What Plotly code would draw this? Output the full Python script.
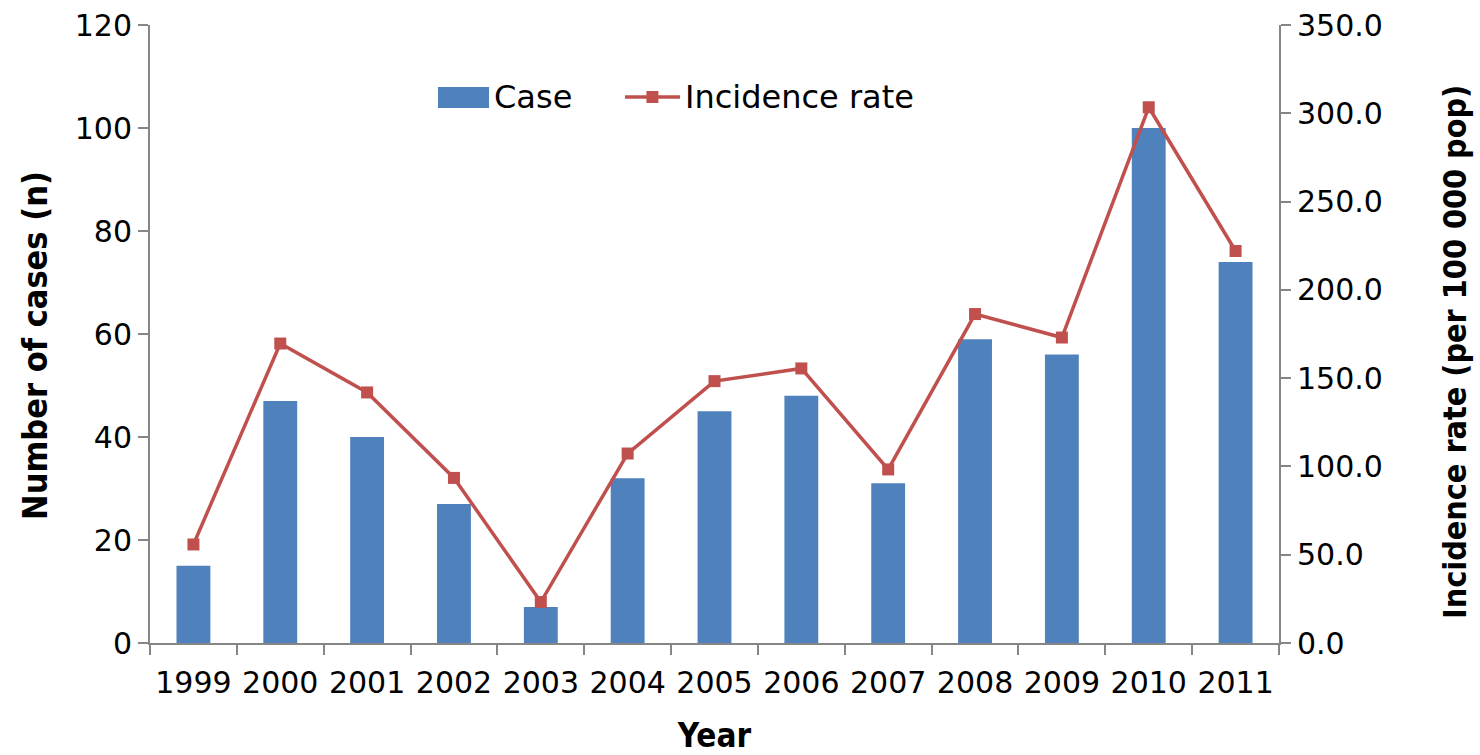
import plotly.graph_objects as go

# Annual cases and incidence rate
years = ["1999", "2000", "2001", "2002", "2003", "2004", "2005",
         "2006", "2007", "2008", "2009", "2010", "2011"]
cases = [15, 47, 40, 27, 7, 32, 45, 48, 31, 59, 56, 100, 74]
incidence_rate = [55.8, 169.6, 141.9, 93.5, 23.2, 107.3, 148.3,
                  155.5, 98.3, 186.3, 173.0, 303.4, 222.0]

BAR_COLOR = "#4F81BD"
LINE_COLOR = "#C0504D"
AXIS_COLOR = "#868686"
FONT = "DejaVu Sans, sans-serif"
TITLE_FONT = "DejaVu Sans Condensed, DejaVu Sans, sans-serif"

fig = go.Figure()

fig.add_trace(go.Bar(
    x=years, y=cases, name="Case",
    marker=dict(color=BAR_COLOR, line=dict(width=0)),
    showlegend=False,
))

fig.add_trace(go.Scatter(
    x=years, y=incidence_rate, name="Incidence rate", yaxis="y2",
    mode="lines+markers",
    line=dict(color=LINE_COLOR, width=3.5),
    marker=dict(symbol="square", size=12, color=LINE_COLOR),
    showlegend=False,
))

# Legend drawn as swatches + text inside the plot area
shapes = [
    dict(type="rect", xref="paper", yref="paper",
         x0=0.2551, x1=0.3003, y0=0.8657, y1=0.8997,
         fillcolor=BAR_COLOR, line=dict(width=0)),
    dict(type="line", xref="paper", yref="paper",
         x0=0.4207, x1=0.4695, y0=0.8835, y1=0.8835,
         line=dict(color=LINE_COLOR, width=3.5)),
    dict(type="rect", xref="paper", yref="paper",
         x0=0.4397, x1=0.4503, y0=0.8738, y1=0.8932,
         fillcolor=LINE_COLOR, line=dict(width=0)),
]
annotations = [
    dict(text="Case", xref="paper", yref="paper", x=0.3029, y=0.8835,
         xanchor="left", yanchor="middle", showarrow=False,
         font=dict(size=32, color="black", family=FONT)),
    dict(text="Incidence rate", xref="paper", yref="paper", x=0.4721, y=0.8835,
         xanchor="left", yanchor="middle", showarrow=False,
         font=dict(size=32, color="black", family=FONT)),
    # Vertical axis titles
    dict(text="<b>Number of cases (n)</b>", xref="paper", yref="paper",
         x=-0.1019, y=0.4822, xanchor="center", yanchor="middle",
         textangle=-90, showarrow=False,
         font=dict(size=34, color="black", family=TITLE_FONT)),
    dict(text="<b>Incidence rate (per 100 000 pop)</b>", xref="paper", yref="paper",
         x=1.1559, y=0.4709, xanchor="center", yanchor="middle",
         textangle=-90, showarrow=False,
         font=dict(size=32, color="black", family=TITLE_FONT)),
]

fig.update_layout(
    width=1480, height=755,
    margin=dict(l=150, r=201, t=25, b=112, autoexpand=False),
    paper_bgcolor="white", plot_bgcolor="white",
    font=dict(family=FONT, size=30, color="black"),
    bargap=0.61,
    shapes=shapes,
    annotations=annotations,
    xaxis=dict(
        type="category", range=[-0.5, 12.5], automargin=False,
        showline=True, linecolor=AXIS_COLOR, linewidth=2,
        ticks="outside", tickson="boundaries", ticklen=10,
        tickcolor=AXIS_COLOR, tickwidth=2,
        showgrid=False, zeroline=False,
        tickfont=dict(size=30), ticklabelstandoff=12,
        title=dict(text="<b>Year</b>", font=dict(size=33, family=TITLE_FONT), standoff=30),
    ),
    yaxis=dict(
        range=[0, 120], dtick=20, automargin=False,
        showline=True, linecolor=AXIS_COLOR, linewidth=2,
        ticks="outside", ticklen=10, tickcolor=AXIS_COLOR, tickwidth=2,
        showgrid=False, zeroline=False,
        tickfont=dict(size=30),
    ),
    yaxis2=dict(
        range=[0, 350], dtick=50, tickformat=".1f", automargin=False,
        overlaying="y", side="right",
        showline=True, linecolor=AXIS_COLOR, linewidth=2,
        ticks="outside", ticklen=10, tickcolor=AXIS_COLOR, tickwidth=2,
        showgrid=False, zeroline=False,
        tickfont=dict(size=30),
    ),
)

fig.write_html("out.html")
